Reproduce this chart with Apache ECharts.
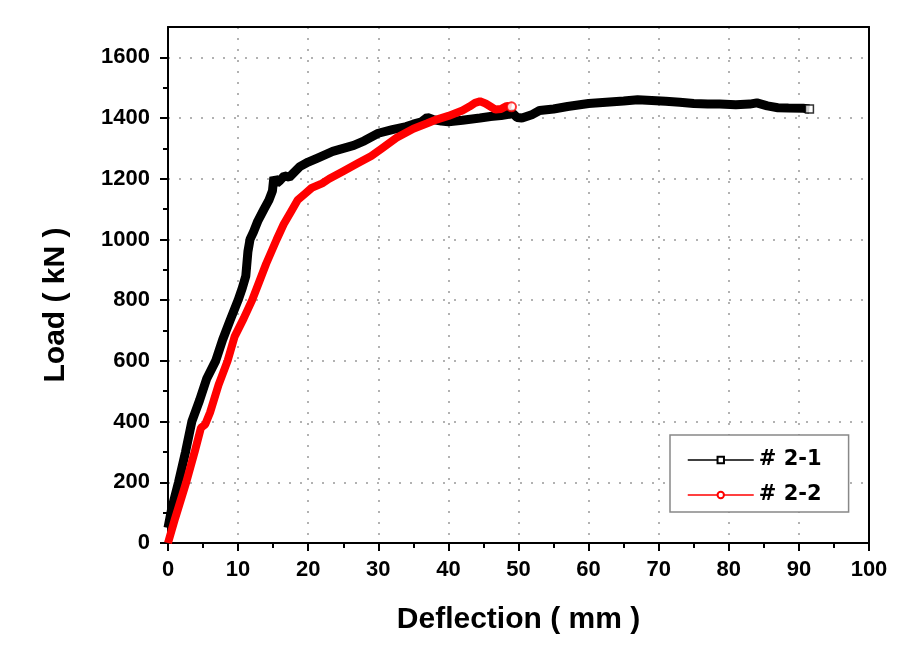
<!DOCTYPE html>
<html>
<head>
<meta charset="utf-8">
<script src="https://cdn.jsdelivr.net/npm/echarts@6/dist/echarts.min.js"></script>
<style>
  html, body { margin: 0; padding: 0; background: #fff; }
  #chart { width: 909px; height: 650px; }
</style>
</head>
<body>
<div id="chart"></div>
<script>
// specimen # 2-1 (black)
var defl21 = [0, 0.5, 1.5, 2.5, 3.4, 4.5, 5.5, 6.8, 7.8, 8.8, 10, 10.6, 11.1, 11.4, 11.7, 12.2, 12.8, 13.7, 14.4, 14.9, 15.1, 15.5, 16, 16.6, 17.3, 18.8, 20, 21.5, 23.5, 25, 26.5, 28, 30, 32, 34, 35, 36.2, 37, 37.8, 39, 40, 42, 44.5, 46, 47.5, 49.2, 49.8, 50.5, 52, 53, 55, 57, 60, 62.5, 65, 67, 69, 71, 73, 75, 77, 78.7, 81, 83, 84, 85.5, 87, 88.5, 90.6, 91.5];
var load21 = [50, 110, 200, 300, 400, 470, 540, 600, 670, 730, 800, 840, 880, 960, 1000, 1025, 1060, 1100, 1130, 1160, 1205, 1185, 1195, 1210, 1205, 1240, 1255, 1270, 1290, 1300, 1310, 1325, 1350, 1362, 1372, 1380, 1388, 1402, 1395, 1390, 1388, 1393, 1400, 1405, 1408, 1415, 1402, 1400, 1412, 1425, 1430, 1438, 1448, 1452, 1456, 1460, 1458, 1455, 1452, 1448, 1446, 1446, 1444, 1446, 1450, 1440, 1434, 1433, 1432, 1430];

// specimen # 2-2 (red)
var defl22 = [0, 1, 2.6, 3.8, 4.7, 5.3, 6, 7.2, 8.5, 9.5, 10.8, 12, 13, 14, 15.5, 16.5, 17.5, 18.5, 19.5, 20.5, 22, 23, 25, 27, 29, 30.5, 32.6, 35, 37, 38.3, 40, 42, 43, 43.8, 44.5, 45.3, 46, 46.7, 47.5, 48.3, 49];
var load22 = [0, 80, 200, 300, 380, 390, 430, 520, 600, 680, 740, 800, 860, 920, 1000, 1050, 1090, 1130, 1150, 1170, 1185, 1200, 1225, 1250, 1275, 1300, 1335, 1365, 1383, 1395, 1407, 1425, 1438, 1450, 1455, 1448, 1438, 1428, 1430, 1440, 1437];

var seriesNames = ['# 2-1', '# 2-2'];
var yMajorTicks = [0, 200, 400, 600, 800, 1000, 1200, 1400, 1600];
var yMinorTicks = [100, 300, 500, 700, 900, 1100, 1300, 1500];

function pairs(xs, ys) {
  return xs.map(function (x, i) { return [x, ys[i]]; });
}
var data21 = pairs(defl21, load21);
var data22 = pairs(defl22, load22);

var chart = echarts.init(document.getElementById('chart'));
var labelFont = {
  color: '#000',
  fontFamily: 'Liberation Sans, Arial, sans-serif',
  fontWeight: 'bold',
  fontSize: 22
};
var titleFont = {
  color: '#000',
  fontFamily: 'Liberation Sans, Arial, sans-serif',
  fontWeight: 'bold',
  fontSize: 30
};
var gridDots = { color: '#999', width: 1.5, type: [2, 9] };
var frameLine = { show: true, onZero: false, lineStyle: { color: '#000', width: 2 } };

var option = {
  animation: false,
  backgroundColor: '#fff',
  grid: {
    left: 168,
    right: 40,
    top: 27,
    bottom: 107
  },
  legend: {
    data: seriesNames,
    orient: 'vertical',
    left: 670,
    top: 435,
    padding: [14, 27, 6, 17],
    itemGap: 13,
    itemWidth: 66,
    itemHeight: 8,
    borderColor: '#888',
    borderWidth: 1.5,
    backgroundColor: '#fff',
    lineStyle: { width: 1.5 },
    textStyle: {
      color: '#000',
      fontFamily: 'DejaVu Sans, sans-serif',
      fontWeight: 'bold',
      fontSize: 21,
      lineHeight: 22
    }
  },
  xAxis: [
    {
      type: 'value',
      min: 0,
      max: 100,
      interval: 10,
      name: 'Deflection ( mm )',
      nameLocation: 'middle',
      nameGap: 62,
      nameTextStyle: titleFont,
      axisLine: frameLine,
      axisTick: { length: 8, lineStyle: { color: '#000', width: 2 } },
      minorTick: { show: true, splitNumber: 2, length: 5, lineStyle: { color: '#000', width: 2 } },
      axisLabel: Object.assign({ margin: 16 }, labelFont),
      splitLine: { show: true, lineStyle: gridDots }
    },
    {
      // top frame line
      type: 'value',
      min: 0,
      max: 100,
      position: 'top',
      axisLine: frameLine,
      axisTick: { show: false },
      axisLabel: { show: false },
      splitLine: { show: false }
    }
  ],
  yAxis: [
    {
      type: 'value',
      min: 0,
      max: 1700,
      interval: 200,
      name: 'Load ( kN )',
      nameLocation: 'middle',
      nameGap: 97,
      nameTextStyle: Object.assign({ padding: [0, 40, 0, 0] }, titleFont),
      axisLine: frameLine,
      axisTick: { show: true, length: 8, customValues: yMajorTicks, lineStyle: { color: '#000', width: 2 } },
      axisLabel: Object.assign({
        margin: 18,
        customValues: yMajorTicks,
        formatter: function (v) { return String(v); }
      }, labelFont),
      splitLine: { show: true, lineStyle: gridDots }
    },
    {
      // minor ticks
      type: 'value',
      min: 0,
      max: 1700,
      position: 'left',
      axisLine: { show: false },
      axisTick: { show: true, length: 5, customValues: yMinorTicks, lineStyle: { color: '#000', width: 2 } },
      axisLabel: { show: false, customValues: yMinorTicks },
      splitLine: { show: false }
    },
    {
      // right frame line
      type: 'value',
      min: 0,
      max: 1700,
      position: 'right',
      axisLine: frameLine,
      axisTick: { show: false },
      axisLabel: { show: false },
      splitLine: { show: false }
    }
  ],
  series: [
    {
      name: seriesNames[0],
      type: 'line',
      data: data21,
      symbol: 'emptyRect',
      showSymbol: false,
      itemStyle: { color: '#000' },
      lineStyle: { color: '#000', width: 9 },
      z: 2
    },
    {
      name: seriesNames[1],
      type: 'line',
      data: data22,
      symbol: 'emptyCircle',
      showSymbol: false,
      itemStyle: { color: '#f00' },
      lineStyle: { color: '#f00', width: 8 },
      z: 3
    },
    {
      type: 'scatter',
      data: [data21[data21.length - 1]],
      symbol: 'rect',
      symbolSize: 8,
      itemStyle: { color: '#fff', borderColor: '#000', borderWidth: 1.5 },
      z: 4
    },
    {
      type: 'scatter',
      data: [data22[data22.length - 1]],
      symbol: 'circle',
      symbolSize: 9,
      itemStyle: { color: '#fff', borderColor: '#f00', borderWidth: 2 },
      z: 4
    }
  ]
};
chart.setOption(option);
</script>
</body>
</html>
